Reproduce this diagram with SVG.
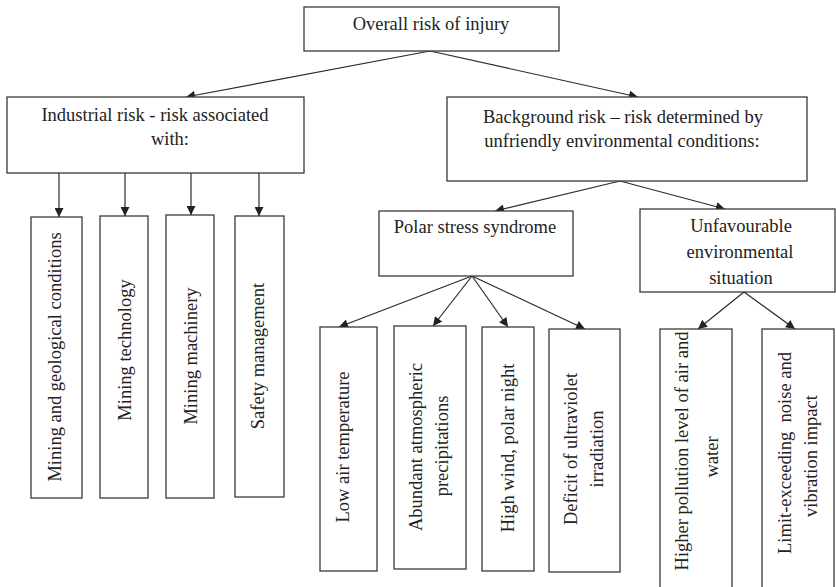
<svg xmlns="http://www.w3.org/2000/svg" width="836" height="587" viewBox="0 0 836 587">
  <defs>
    <marker id="arrow" viewBox="0 0 10 10" refX="10" refY="5" markerWidth="10" markerHeight="9" markerUnits="userSpaceOnUse" orient="auto">
      <path d="M0,0 L10,5 L0,10 Z" fill="#222"/>
    </marker>
    <style>
      .box { fill: #fff; stroke: #3a3a3a; stroke-width: 1.3; }
      .lbl { font-family: "Liberation Serif", "Times New Roman", serif; font-size: 18.5px; fill: #222; text-anchor: middle; }
      .edge { stroke: #2a2a2a; stroke-width: 1.2; fill: none; marker-end: url(#arrow); }
    </style>
  </defs>
  <rect width="836" height="587" fill="#fff"/>

  <!-- connectors -->
  <g id="connectors">
    <line class="edge" x1="430" y1="51" x2="186" y2="97"/>
    <line class="edge" x1="430" y1="51" x2="638" y2="97"/>
    <line class="edge" x1="59" y1="173" x2="59" y2="217"/>
    <line class="edge" x1="125" y1="173" x2="125" y2="216"/>
    <line class="edge" x1="191" y1="173" x2="191" y2="215"/>
    <line class="edge" x1="259" y1="173" x2="259" y2="216"/>
    <line class="edge" x1="620" y1="181" x2="495" y2="211"/>
    <line class="edge" x1="620" y1="181" x2="725" y2="209"/>
    <line class="edge" x1="472" y1="276" x2="339" y2="327"/>
    <line class="edge" x1="472" y1="276" x2="433" y2="326"/>
    <line class="edge" x1="472" y1="276" x2="508" y2="327"/>
    <line class="edge" x1="472" y1="276" x2="585" y2="329"/>
    <line class="edge" x1="744" y1="292" x2="698" y2="329"/>
    <line class="edge" x1="744" y1="292" x2="795" y2="329"/>
  </g>

  <!-- top level -->
  <g id="overall">
    <rect class="box" x="304" y="7" width="255" height="44"/>
    <text class="lbl" x="431" y="30">Overall risk of injury</text>
  </g>

  <!-- second level -->
  <g id="industrial">
    <rect class="box" x="7" y="97" width="297" height="76"/>
    <text class="lbl" x="155" y="121">Industrial risk - risk associated</text>
    <text class="lbl" x="170" y="145">with:</text>
  </g>
  <g id="background">
    <rect class="box" x="447" y="97" width="360" height="84"/>
    <text class="lbl" x="623" y="123">Background risk – risk determined by</text>
    <text class="lbl" x="622" y="147">unfriendly environmental conditions:</text>
  </g>

  <!-- industrial factors -->
  <g id="mining-geology">
    <rect class="box" x="31" y="217" width="51" height="281"/>
    <text class="lbl" transform="translate(61,357) rotate(-90)">Mining and geological conditions</text>
  </g>
  <g id="mining-technology">
    <rect class="box" x="100" y="216" width="48" height="282"/>
    <text class="lbl" transform="translate(131,350) rotate(-90)">Mining technology</text>
  </g>
  <g id="mining-machinery">
    <rect class="box" x="166" y="215" width="48" height="283"/>
    <text class="lbl" transform="translate(197,356) rotate(-90)">Mining machinery</text>
  </g>
  <g id="safety-management">
    <rect class="box" x="235" y="216" width="49" height="281"/>
    <text class="lbl" transform="translate(264,356) rotate(-90)">Safety management</text>
  </g>

  <!-- background factors -->
  <g id="polar-stress">
    <rect class="box" x="379" y="211" width="194" height="65"/>
    <text class="lbl" x="475" y="233">Polar stress syndrome</text>
  </g>
  <g id="environment">
    <rect class="box" x="640" y="209" width="195" height="83"/>
    <text class="lbl" x="741" y="232">Unfavourable</text>
    <text class="lbl" x="740" y="258">environmental</text>
    <text class="lbl" x="741" y="284">situation</text>
  </g>

  <!-- polar stress components -->
  <g id="low-temperature">
    <rect class="box" x="320" y="327" width="57" height="244"/>
    <text class="lbl" transform="translate(349,447) rotate(-90)">Low air temperature</text>
  </g>
  <g id="precipitation">
    <rect class="box" x="394" y="326" width="72" height="243"/>
    <text class="lbl" transform="translate(422,447) rotate(-90)">Abundant atmospheric</text>
    <text class="lbl" transform="translate(448,446) rotate(-90)">precipitations</text>
  </g>
  <g id="wind-night">
    <rect class="box" x="482" y="327" width="52" height="244"/>
    <text class="lbl" transform="translate(514,448) rotate(-90)">High wind, polar night</text>
  </g>
  <g id="uv-deficit">
    <rect class="box" x="549" y="329" width="71" height="243"/>
    <text class="lbl" transform="translate(577,449) rotate(-90)">Deficit of ultraviolet</text>
    <text class="lbl" transform="translate(603,449) rotate(-90)">irradiation</text>
  </g>

  <!-- environmental components -->
  <g id="pollution">
    <rect class="box" x="660" y="329" width="72" height="270"/>
    <text class="lbl" transform="translate(688,451) rotate(-90)">Higher pollution level of air and</text>
    <text class="lbl" transform="translate(718,457) rotate(-90)">water</text>
  </g>
  <g id="noise-vibration">
    <rect class="box" x="762" y="329" width="72" height="270"/>
    <text class="lbl" transform="translate(791,453) rotate(-90)" xml:space="preserve">Limit-exceeding  noise and</text>
    <text class="lbl" transform="translate(817,456) rotate(-90)">vibration impact</text>
  </g>
</svg>
